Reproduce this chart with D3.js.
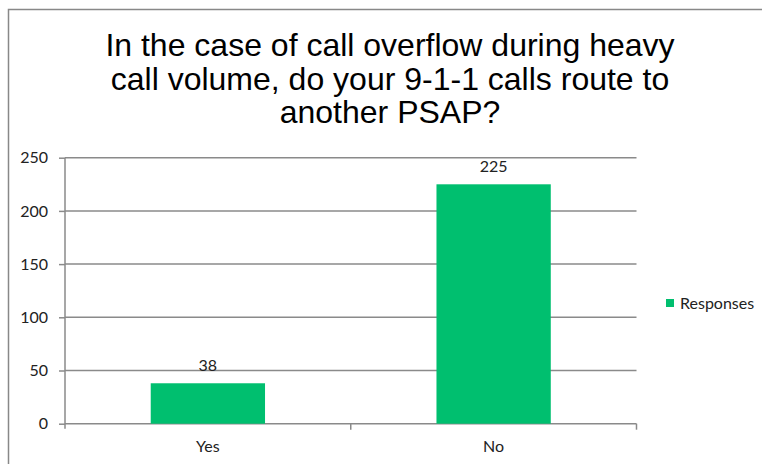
<!DOCTYPE html>
<html>
<head>
<meta charset="utf-8">
<script src="https://cdn.jsdelivr.net/npm/d3@7"></script>
<style>
  html, body { margin: 0; padding: 0; background: #fff; }
  svg { display: block; }
</style>
</head>
<body>
<svg id="chart" width="762" height="464"></svg>
<script>
const categories = ["Yes", "No"];
const responses = [38, 225];
const yTicks = [0, 50, 100, 150, 200, 250];
const seriesName = "Responses";
const titleLines = [
  "In the case of call overflow during heavy",
  "call volume, do your 9-1-1 calls route to",
  "another PSAP?"
];

const svg = d3.select("#chart");
const W = 762, H = 464;
const margin = { left: 65, right: 762 - 636.5, top: 157.7, bottom: 464 - 423.7 };
const green = "#00bf6f";
const gridColor = "#8a8a8a";
const labelFont = "Lato, 'Open Sans', sans-serif";

// outer border
svg.append("rect")
  .attr("x", 8.5).attr("y", 9.5)
  .attr("width", 900).attr("height", 900)
  .attr("fill", "#fff")
  .attr("stroke", "#888").attr("stroke-width", 1.5);

// title
const title = svg.append("text")
  .attr("text-anchor", "middle")
  .attr("font-family", "'Liberation Sans', Arial, sans-serif")
  .attr("font-size", 32)
  .attr("fill", "#000");
titleLines.forEach((t, i) => {
  title.append("tspan").attr("x", 390).attr("y", 56 + i * 33.5).text(t);
});

const x = d3.scaleBand()
  .domain(categories)
  .range([margin.left, W - margin.right])
  .paddingInner(0.6).paddingOuter(0.3);
const xStep = x.step();

const y = d3.scaleLinear()
  .domain([0, 250])
  .range([H - margin.bottom, margin.top]);

// gridlines
svg.append("g")
  .selectAll("line")
  .data(yTicks.filter(d => d > 0))
  .join("line")
  .attr("x1", margin.left).attr("x2", W - margin.right)
  .attr("y1", d => y(d)).attr("y2", d => y(d))
  .attr("stroke", gridColor).attr("stroke-width", 1.5);

// y axis
const yAxis = svg.append("g")
  .attr("transform", `translate(${margin.left},0)`)
  .call(d3.axisLeft(y).tickValues(yTicks).tickSize(6).tickPadding(11));
yAxis.select(".domain").attr("stroke", gridColor).attr("stroke-width", 1.5)
  .attr("d", `M0,${y(0) + 5}V${y(250)}`);
yAxis.selectAll(".tick line").attr("stroke", gridColor).attr("stroke-width", 1.5);
yAxis.selectAll(".tick text")
  .attr("font-family", labelFont)
  .attr("font-size", 16).attr("fill", "#222");

// x axis
const xAxis = svg.append("g")
  .attr("transform", `translate(0,${y(0)})`);
xAxis.append("line")
  .attr("x1", margin.left).attr("x2", W - margin.right)
  .attr("y1", 0).attr("y2", 0)
  .attr("stroke", gridColor).attr("stroke-width", 1.5);
const boundaries = categories.map(c => x(c) + x.bandwidth() / 2 + xStep / 2);
xAxis.selectAll("line.tk")
  .data(boundaries)
  .join("line").attr("class", "tk")
  .attr("x1", d => d).attr("x2", d => d)
  .attr("y1", 0).attr("y2", 6)
  .attr("stroke", gridColor).attr("stroke-width", 1.5);
xAxis.selectAll("text")
  .data(categories)
  .join("text")
  .attr("x", d => x(d) + x.bandwidth() / 2)
  .attr("y", 28)
  .attr("text-anchor", "middle")
  .attr("font-family", labelFont)
  .attr("font-size", 16).attr("fill", "#222")
  .text(d => d);

// bars
svg.append("g")
  .selectAll("rect")
  .data(categories.map((c, i) => ({ c, v: responses[i] })))
  .join("rect")
  .attr("x", d => x(d.c))
  .attr("width", x.bandwidth())
  .attr("y", d => y(d.v))
  .attr("height", d => y(0) - y(d.v))
  .attr("fill", green);

// data labels
svg.append("g")
  .selectAll("text")
  .data(categories.map((c, i) => ({ c, v: responses[i] })))
  .join("text")
  .attr("x", d => x(d.c) + x.bandwidth() / 2)
  .attr("y", d => y(d.v) - 12)
  .attr("text-anchor", "middle")
  .attr("font-family", labelFont)
  .attr("font-size", 16).attr("fill", "#222")
  .text(d => d.v);

// legend
const lg = svg.append("g").attr("transform", "translate(666,299)");
lg.append("rect").attr("width", 8).attr("height", 8).attr("fill", green);
lg.append("text")
  .attr("x", 14).attr("y", 10)
  .attr("font-family", labelFont)
  .attr("font-size", 16).attr("fill", "#222")
  .text(seriesName);
</script>
</body>
</html>
